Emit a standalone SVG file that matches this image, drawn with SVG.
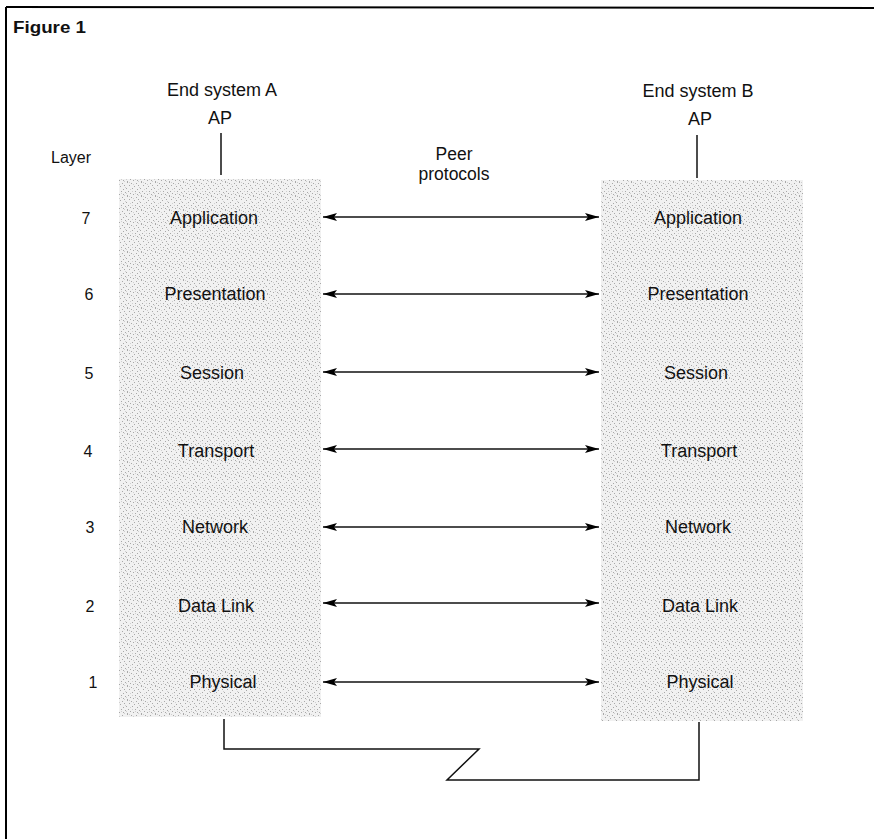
<svg xmlns="http://www.w3.org/2000/svg" width="874" height="839" viewBox="0 0 874 839">
<defs>
<pattern id="stip" width="14" height="14" patternUnits="userSpaceOnUse">
<rect width="14" height="14" fill="#f1f1f1"/>
<g fill="#a8a8a8">
<rect x="1" y="0" width="1" height="1"/><rect x="5" y="1" width="1" height="1"/><rect x="10" y="1" width="1" height="1"/>
<rect x="3" y="3" width="1" height="1"/><rect x="8" y="4" width="1" height="1"/><rect x="12" y="3" width="1" height="1"/>
<rect x="0" y="6" width="1" height="1"/><rect x="6" y="6" width="1" height="1"/><rect x="11" y="7" width="1" height="1"/>
<rect x="2" y="9" width="1" height="1"/><rect x="9" y="9" width="1" height="1"/><rect x="13" y="10" width="1" height="1"/>
<rect x="4" y="11" width="1" height="1"/><rect x="7" y="12" width="1" height="1"/><rect x="1" y="13" width="1" height="1"/><rect x="11" y="12" width="1" height="1"/>
</g>
<g fill="#cfcfcf">
<rect x="3" y="0" width="1" height="1"/><rect x="7" y="2" width="1" height="1"/><rect x="13" y="5" width="1" height="1"/>
<rect x="4" y="7" width="1" height="1"/><rect x="9" y="11" width="1" height="1"/><rect x="0" y="11" width="1" height="1"/>
<rect x="6" y="9" width="1" height="1"/><rect x="12" y="13" width="1" height="1"/>
</g>
</pattern>
<marker id="ah" viewBox="0 0 14 8" refX="14" refY="4" markerWidth="14" markerHeight="8" markerUnits="userSpaceOnUse" orient="auto-start-reverse">
<path d="M0,0 L14,4 L0,8 L3,4 Z" fill="#000"/>
</marker>
</defs>
<style>
text{font-family:"Liberation Sans",Arial,Helvetica,sans-serif;fill:#111;}
.lbl{font-size:18px;text-anchor:middle;}
.peer{font-size:17.5px;text-anchor:middle;}
.num{font-size:16px;text-anchor:middle;}
.ln{stroke:#111;stroke-width:1.5;fill:none;}
.arr{stroke:#111;stroke-width:1.5;fill:none;marker-start:url(#ah);marker-end:url(#ah);}
.col{fill:url(#stip);}
</style>
<rect width="874" height="839" fill="#fff"/>
<g id="frame">
<line x1="6" y1="7" x2="874" y2="8" stroke="#000" stroke-width="2"/>
<line x1="6" y1="7" x2="6" y2="839" stroke="#000" stroke-width="2"/>
<text x="13" y="33" style="font-size:17px;font-weight:bold" textLength="73" lengthAdjust="spacingAndGlyphs">Figure 1</text>
</g>
<g id="layer-labels">
<text x="71" y="163" class="num">Layer</text>
<text x="86" y="224" class="num">7</text>
<text x="89" y="300" class="num">6</text>
<text x="89" y="379" class="num">5</text>
<text x="88" y="457" class="num">4</text>
<text x="90" y="533" class="num">3</text>
<text x="90" y="612" class="num">2</text>
<text x="93" y="688" class="num">1</text>
</g>
<g id="end-system-a">
<text x="222" y="96" class="lbl">End system A</text>
<text x="220" y="124" class="lbl">AP</text>
<rect class="col" x="119" y="179" width="202" height="538"/>
<text x="214" y="224" class="lbl">Application</text>
<text x="215" y="300" class="lbl">Presentation</text>
<text x="212" y="379" class="lbl">Session</text>
<text x="216" y="457" class="lbl">Transport</text>
<text x="215" y="533" class="lbl">Network</text>
<text x="216" y="612" class="lbl">Data Link</text>
<text x="223" y="688" class="lbl">Physical</text>
</g>
<g id="end-system-b">
<text x="698" y="97" class="lbl">End system B</text>
<text x="700" y="125" class="lbl">AP</text>
<rect class="col" x="601" y="180" width="202" height="541"/>
<text x="698" y="224" class="lbl">Application</text>
<text x="698" y="300" class="lbl">Presentation</text>
<text x="696" y="379" class="lbl">Session</text>
<text x="699" y="457" class="lbl">Transport</text>
<text x="698" y="533" class="lbl">Network</text>
<text x="700" y="612" class="lbl">Data Link</text>
<text x="700" y="688" class="lbl">Physical</text>
</g>
<g id="peer-label">
<text x="454" y="160" class="peer">Peer</text>
<text x="454" y="180" class="peer">protocols</text>
</g>
<g id="connectors">
<line class="ln" x1="221" y1="133" x2="221" y2="175"/>
<line class="ln" x1="697" y1="135" x2="697" y2="178"/>
<line class="arr" x1="323" y1="217" x2="599" y2="217"/>
<line class="arr" x1="323" y1="294" x2="599" y2="294"/>
<line class="arr" x1="323" y1="372" x2="599" y2="372"/>
<line class="arr" x1="323" y1="449" x2="599" y2="449"/>
<line class="arr" x1="323" y1="527" x2="599" y2="527"/>
<line class="arr" x1="323" y1="603" x2="599" y2="603"/>
<line class="arr" x1="323" y1="682" x2="599" y2="682"/>
<polyline class="ln" points="224,719 224,749 479,749 447,780 699,780 699,722"/>
</g>
</svg>
